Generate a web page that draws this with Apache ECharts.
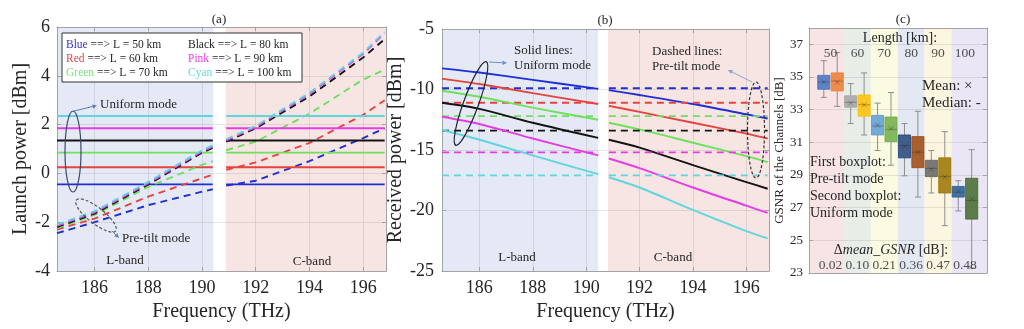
<!DOCTYPE html>
<html><head><meta charset="utf-8">
<script src="https://cdn.jsdelivr.net/npm/echarts@6/dist/echarts.min.js"></script>
<style>html,body{margin:0;padding:0;background:#fff}#c{width:1024px;height:329px}</style>
</head><body><div id="c"></div>
<script>
const FONT = '"Liberation Serif", "DejaVu Serif", serif';
// order: Blue, Red, Green, Black, Pink, Cyan
const colorNames = ['Blue', 'Red', 'Green', 'Black', 'Pink', 'Cyan'];
const lengthsKm = [50, 60, 70, 80, 90, 100];
const lineColors = ['#1f2fd6', '#e5433d', '#6ee05c', '#141414', '#e63be6', '#5ed6de'];
const legendColors = ['#3535c8', '#e04848', '#7be07b', '#222222', '#e040e0', '#6cd8de'];

// ---------- panel (a): launch power ----------
const aXRange = [184.6, 196.85];
const aYRange = [-4, 6];
const aBandL = [184.6, 190.42];
const aBandC = [190.88, 196.85];
const aFreqL = [184.6, 186, 188, 190, 190.4];
const aFreqC = [190.9, 192, 194, 196, 196.8];
const aUniform = [-0.45, 0.25, 0.85, 1.35, 1.85, 2.35];
const aTiltL = [
  [-2.45, -2.0, -1.3, -0.75, -0.65],
  [-2.3, -1.85, -0.95, -0.2, -0.05],
  [-2.25, -1.7, -0.55, 0.35, 0.5],
  [-2.2, -1.65, -0.45, 0.85, 1.05],
  [-2.15, -1.6, -0.4, 0.9, 1.1],
  [-2.1, -1.55, -0.35, 0.95, 1.15]
];
const aTiltC = [
  [-0.5, -0.3, 0.5, 1.45, 1.85],
  [0.15, 0.45, 1.25, 2.4, 3.0],
  [0.95, 1.3, 2.45, 3.85, 4.25],
  [1.3, 1.85, 3.15, 4.75, 5.5],
  [1.35, 1.9, 3.25, 4.9, 5.75],
  [1.4, 1.95, 3.3, 4.95, 5.8]
];

// ---------- panel (b): received power ----------
const bXRange = [184.6, 196.85];
const bYRange = [-25, -5];
const bBandL = [184.6, 190.45];
const bBandC = [190.82, 196.85];
const bFreqL = [184.6, 186, 188, 190.45];
const bFreqC = [190.85, 192, 194, 196, 196.8];
const bUniformL = [
  [-8.25, -8.6, -9.2, -9.95],
  [-9.1, -9.55, -10.3, -11.2],
  [-10.1, -10.6, -11.5, -12.5],
  [-11.1, -11.6, -12.75, -14.0],
  [-12.25, -12.85, -14.05, -15.45],
  [-13.35, -14.15, -15.45, -17.0]
];
const bUniformC = [
  [-10.05, -10.45, -11.2, -12.05, -12.4],
  [-11.35, -11.85, -12.75, -13.65, -14.05],
  [-12.75, -13.3, -14.4, -15.5, -16.0],
  [-14.15, -14.8, -16.25, -17.65, -18.2],
  [-15.7, -16.5, -18.1, -19.6, -20.2],
  [-17.25, -18.1, -19.95, -21.7, -22.3]
];
const bPreTilt = [-9.9, -11.1, -12.2, -13.4, -15.2, -17.1];

// ---------- panel (c): GSNR boxplots ----------
const cYRange = [23, 38];
// [min, q1, median, q3, max, mean]
const gsnrPreTilt = [
  [33.75, 34.25, 34.7, 35.1, 36.0, 34.70],
  [32.15, 33.15, 33.45, 33.85, 34.6, 33.40],
  [30.5, 31.45, 32.0, 32.65, 33.4, 32.05],
  [28.95, 30.05, 30.8, 31.45, 32.15, 30.75],
  [27.9, 28.9, 29.4, 29.9, 30.5, 29.35],
  [26.8, 27.65, 27.95, 28.3, 28.65, 28.00]
];
const gsnrUniform = [
  [33.2, 34.15, 34.75, 35.25, 36.5, 34.68],
  [31.45, 32.6, 33.3, 33.9, 35.25, 33.30],
  [29.6, 31.05, 31.8, 32.55, 34.05, 31.84],
  [27.65, 29.45, 30.4, 31.35, 32.9, 30.39],
  [25.9, 27.9, 28.9, 30.05, 31.65, 28.88],
  [23.3, 26.3, 27.45, 28.8, 30.55, 27.52]
];
const deltaMean = ['0.02', '0.10', '0.21', '0.36', '0.47', '0.48'];
const boxColors = ['#4472C4', '#ED7D31', '#A5A5A5', '#FFC000', '#5B9BD5', '#70AD47',
                   '#264478', '#9E480E', '#636363', '#997300', '#255E91', '#43682B'];
const cBandColors = ['#f8e4e4', '#e7eee8', '#fbfbe1', '#e3e8f2', '#fcf6e1', '#ebe6f5'];

const chart = echarts.init(document.getElementById('c'), null, {width: 1024, height: 329});

const GRAY = '#a3a3a3';
const TXT = '#262626';
const freqFmt = v => (Math.abs(v - Math.round(v)) < 1e-6 && Math.round(v) % 2 === 0) ? String(Math.round(v)) : '';

function mainAxis(gridIndex, pos, range, extra) {
  return Object.assign({
    type: 'value', gridIndex, position: pos, min: range[0], max: range[1], z: 2,
    axisLine: {show: true, onZero: false, lineStyle: {color: GRAY, width: 1}},
    axisTick: {show: true, inside: true, length: 4, lineStyle: {color: GRAY}},
    axisLabel: {color: TXT, fontFamily: FONT, fontSize: 18},
    splitLine: {show: true, lineStyle: {color: 'rgba(130,130,130,0.2)', width: 1}},
    nameLocation: 'middle',
    nameTextStyle: {color: TXT, fontFamily: FONT, fontSize: 20}
  }, extra || {});
}
function mirrorAxis(gridIndex, pos, range, extra) {
  return Object.assign({
    type: 'value', gridIndex, position: pos, min: range[0], max: range[1], z: 2,
    axisLine: {show: true, onZero: false, lineStyle: {color: GRAY, width: 1}},
    axisTick: {show: true, inside: true, length: 4, lineStyle: {color: GRAY}},
    axisLabel: {show: false},
    splitLine: {show: false}
  }, extra || {});
}

const xAxes = [
  mainAxis(0, 'bottom', aXRange, {name: 'Frequency (THz)', nameGap: 29, splitNumber: 5,
    axisLabel: {color: TXT, fontFamily: FONT, fontSize: 18, margin: 8, formatter: freqFmt}}),
  mirrorAxis(0, 'top', aXRange, {splitNumber: 5}),
  mainAxis(1, 'bottom', bXRange, {name: 'Frequency (THz)', nameGap: 29, splitNumber: 5,
    axisLabel: {color: TXT, fontFamily: FONT, fontSize: 18, margin: 8, formatter: freqFmt}}),
  mirrorAxis(1, 'top', bXRange, {splitNumber: 5}),
  mainAxis(2, 'bottom', [0.2, 6.82], {axisTick: {show: false}, axisLabel: {show: false}, splitLine: {show: false}}),
  mirrorAxis(2, 'top', [0.2, 6.82], {axisTick: {show: false}})
];
const yAxes = [
  mainAxis(0, 'left', aYRange, {interval: 2, name: 'Launch power [dBm]', nameGap: 25,
    axisLabel: {color: TXT, fontFamily: FONT, fontSize: 18, margin: 7}}),
  mirrorAxis(0, 'right', aYRange, {interval: 2}),
  mainAxis(1, 'left', bYRange, {interval: 5, name: 'Received power [dBm]', nameGap: 30,
    axisLabel: {color: TXT, fontFamily: FONT, fontSize: 18, margin: 8}}),
  mirrorAxis(1, 'right', bYRange, {interval: 5}),
  mainAxis(2, 'left', cYRange, {interval: 2, name: 'GSNR of the Channels [dB]', nameGap: 22,
    nameTextStyle: {color: TXT, fontFamily: FONT, fontSize: 13},
    axisLabel: {color: TXT, fontFamily: FONT, fontSize: 13, margin: 6, formatter: v => v > 37.5 ? '' : String(v)}}),
  mirrorAxis(2, 'right', cYRange, {interval: 2})
];

const series = [];
function band(from, to, yr, color) {
  return [{xAxis: from, yAxis: yr[0], itemStyle: {color}}, {xAxis: to, yAxis: yr[1]}];
}
series.push({type: 'line', xAxisIndex: 0, yAxisIndex: 0, data: [], z: -1, silent: true,
  markArea: {silent: true, data: [band(aBandL[0], aBandL[1], aYRange, '#e5e9f6'), band(aBandC[0], aBandC[1], aYRange, '#f7e5e4')]}});
series.push({type: 'line', xAxisIndex: 2, yAxisIndex: 2, data: [], z: -1, silent: true,
  markArea: {silent: true, data: [band(bBandL[0], bBandL[1], bYRange, '#e5e9f6'), band(bBandC[0], bBandC[1], bYRange, '#f7e5e4')]}});
const cEdges = [0.2, 1.5, 2.5, 3.5, 4.5, 5.5, 6.82];
series.push({type: 'line', xAxisIndex: 4, yAxisIndex: 4, data: [], z: -1, silent: true,
  markArea: {silent: true, data: cBandColors.map((c, i) => band(cEdges[i], cEdges[i + 1], cYRange, c))}});

function line(xi, yi, xs, ys, color, dashed, smooth) {
  return {type: 'line', xAxisIndex: xi, yAxisIndex: yi, z: 3, silent: true,
    data: xs.map((x, i) => [x, ys[i]]), symbol: 'none', showSymbol: false,
    smooth: smooth ? 0.3 : false,
    lineStyle: {color, width: 1.9, type: dashed ? [7, 5] : 'solid'}};
}
for (let k = 0; k < 6; k++) {
  const c = lineColors[k];
  series.push(line(0, 0, [aFreqL[0], aFreqL[aFreqL.length - 1]], [aUniform[k], aUniform[k]], c, false));
  series.push(line(0, 0, [aFreqC[0], aFreqC[aFreqC.length - 1]], [aUniform[k], aUniform[k]], c, false));
  series.push(line(0, 0, aFreqL, aTiltL[k], c, true));
  series.push(line(0, 0, aFreqC, aTiltC[k], c, true));
  series.push(line(2, 2, bFreqL, bUniformL[k], c, false, true));
  series.push(line(2, 2, bFreqC, bUniformC[k], c, false, true));
  series.push(line(2, 2, [bFreqL[0], bFreqL[bFreqL.length - 1]], [bPreTilt[k], bPreTilt[k]], c, true));
  series.push(line(2, 2, [bFreqC[0], bFreqC[bFreqC.length - 1]], [bPreTilt[k], bPreTilt[k]], c, true));
}

// (c) boxes
const boxData = [];
gsnrPreTilt.forEach((r, i) => boxData.push([i + 1 - 0.25].concat(r, [2 * i])));
gsnrUniform.forEach((r, i) => boxData.push([i + 1 + 0.25].concat(r, [2 * i + 1])));
series.push({
  type: 'custom', xAxisIndex: 4, yAxisIndex: 4, z: 3, silent: true,
  encode: {x: 0, y: [1, 5]},
  data: boxData,
  renderItem: function (params, api) {
    const x = api.value(0);
    const pMin = api.coord([x, api.value(1)]), pQ1 = api.coord([x, api.value(2)]);
    const pMed = api.coord([x, api.value(3)]), pQ3 = api.coord([x, api.value(4)]);
    const pMax = api.coord([x, api.value(5)]), pMean = api.coord([x, api.value(6)]);
    const col = boxColors[api.value(7)];
    const w = api.size([0.45, 0])[0];
    const cap = 3;
    const cx = pMax[0];
    const wl = {stroke: '#8e8e8e', lineWidth: 1};
    const mk = {stroke: 'rgba(40,40,40,0.35)', lineWidth: 1};
    const m = 2.5;
    return {type: 'group', children: [
      {type: 'line', shape: {x1: cx, y1: pMax[1], x2: cx, y2: pQ3[1]}, style: wl},
      {type: 'line', shape: {x1: cx, y1: pQ1[1], x2: cx, y2: pMin[1]}, style: wl},
      {type: 'line', shape: {x1: cx - cap, y1: pMax[1], x2: cx + cap, y2: pMax[1]}, style: wl},
      {type: 'line', shape: {x1: cx - cap, y1: pMin[1], x2: cx + cap, y2: pMin[1]}, style: wl},
      {type: 'rect', shape: {x: cx - w / 2, y: pQ3[1], width: w, height: pQ1[1] - pQ3[1]},
        style: {fill: col, stroke: col, lineWidth: 1, opacity: 0.85}},
      {type: 'line', shape: {x1: cx - w / 2, y1: pMed[1], x2: cx + w / 2, y2: pMed[1]}, style: {stroke: 'rgba(30,30,30,0.3)', lineWidth: 1}},
      {type: 'line', shape: {x1: cx - m, y1: pMean[1] - m, x2: cx + m, y2: pMean[1] + m}, style: mk},
      {type: 'line', shape: {x1: cx - m, y1: pMean[1] + m, x2: cx + m, y2: pMean[1] - m}, style: mk}
    ]};
  }
});
series.push({type: 'scatter', xAxisIndex: 4, yAxisIndex: 4, z: 5, silent: true, symbolSize: 0,
  data: lengthsKm.map((l, i) => ({value: [i + 1, 36.47], name: String(l)})),
  label: {show: true, position: 'inside', formatter: p => p.name, color: TXT, fontFamily: FONT, fontSize: 13.5}});
series.push({type: 'scatter', xAxisIndex: 4, yAxisIndex: 4, z: 5, silent: true, symbolSize: 0,
  data: deltaMean.map((d, i) => ({value: [i + 1, 23.45], name: d})),
  label: {show: true, position: 'inside', formatter: p => p.name, color: TXT, fontFamily: FONT, fontSize: 13.5}});

// ---------- annotations ----------
function txt(x, y, text, size, align, extra) {
  return Object.assign({type: 'text', x, y, z: 100, silent: true,
    style: Object.assign({text, font: size + 'px ' + FONT, fill: TXT, align: align || 'left', verticalAlign: 'middle'}, extra || {})});
}
function ellipse(x, y, rx, ry, rotDeg, color, dashed) {
  return {type: 'ellipse', x, y, rotation: rotDeg * Math.PI / 180, z: 100, silent: true,
    shape: {cx: 0, cy: 0, rx, ry},
    style: {fill: 'none', stroke: color, lineWidth: 1.2, lineDash: dashed ? [3, 2] : null}};
}
function arrow(x1, y1, x2, y2, color) {
  const a = Math.atan2(y2 - y1, x2 - x1), L = 4.5, H = 2.2;
  const bx = x2 - L * Math.cos(a), by = y2 - L * Math.sin(a);
  return [
    {type: 'line', z: 100, silent: true, shape: {x1, y1, x2: bx, y2: by}, style: {stroke: color, lineWidth: 1}},
    {type: 'polygon', z: 100, silent: true, shape: {points: [[x2, y2], [bx - H * Math.sin(a), by + H * Math.cos(a)], [bx + H * Math.sin(a), by - H * Math.cos(a)]]},
      style: {fill: color}}
  ];
}
const graphics = [];
graphics.push(txt(219, 20, '(a)', 13, 'center'));
graphics.push(txt(605, 21, '(b)', 13, 'center'));
graphics.push(txt(903, 20, '(c)', 13, 'center'));
graphics.push({type: 'rect', z: 99, silent: true, shape: {x: 62, y: 33, width: 240, height: 49}, style: {fill: '#fff', stroke: '#333', lineWidth: 1}});
const legendRich = {};
colorNames.forEach((n, k) => { legendRich['c' + k] = {fill: legendColors[k], font: '11.5px ' + FONT}; });
colorNames.forEach((n, k) => {
  const col = Math.floor(k / 3), row = k % 3;
  graphics.push(txt(col ? 188 : 66, 45 + row * 14, '{c' + k + '|' + n + '} ==> L = ' + lengthsKm[k] + ' km', 11.5, 'left', {rich: legendRich}));
});
graphics.push(txt(100, 105, 'Uniform mode', 13));
graphics.push(txt(122, 239, 'Pre-tilt mode', 13));
graphics.push(txt(125, 261, 'L-band', 13, 'center'));
graphics.push(txt(312, 262, 'C-band', 13, 'center'));
graphics.push(ellipse(73, 151.5, 8, 40.5, 0, '#3d4a66', false));
graphics.push(ellipse(96, 215.5, 25, 8, -38, '#555', true));
graphics.push(...arrow(74, 111, 97, 105.5, '#5a7db8'));
graphics.push(...arrow(112, 231, 119, 238, '#5a7db8'));
graphics.push(txt(514, 51, 'Solid lines:', 13));
graphics.push(txt(514, 66, 'Uniform mode', 13));
graphics.push(txt(652, 52, 'Dashed lines:', 13));
graphics.push(txt(652, 67, 'Pre-tilt mode', 13));
graphics.push(txt(517, 258, 'L-band', 13, 'center'));
graphics.push(txt(673, 258, 'C-band', 13, 'center'));
graphics.push(ellipse(471, 103.5, 7.5, 44.5, -20, '#1e2330', false));
graphics.push(ellipse(756, 130, 8.5, 48, 0, '#333', true));
graphics.push(...arrow(489, 62, 507, 63, '#6f8fc0'));
graphics.push(...arrow(752, 82, 728, 70, '#8aa3cc'));
graphics.push(txt(900, 38, 'Length [km]:', 14, 'center'));
graphics.push(txt(922, 86, 'Mean: ×', 15));
graphics.push(txt(922, 103, 'Median: -', 15));
graphics.push(txt(810, 162, 'First boxplot:', 14));
graphics.push(txt(810, 179, 'Pre-tilt mode', 14));
graphics.push(txt(810, 196, 'Second boxplot:', 14));
graphics.push(txt(810, 213, 'Uniform mode', 14));
graphics.push(txt(891, 250, '', 14, 'center', {text: 'Δ{i|mean_GSNR} [dB]:', rich: {i: {font: 'italic 14px ' + FONT, fill: TXT}}}));

chart.setOption({
  animation: false,
  backgroundColor: '#ffffff',
  grid: [
    {left: 57, top: 27, width: 329, height: 244},
    {left: 442, top: 29, width: 327, height: 242},
    {left: 809, top: 28, width: 178, height: 245}
  ],
  xAxis: xAxes,
  yAxis: yAxes,
  series,
  graphic: {elements: graphics}
});
</script></body></html>
